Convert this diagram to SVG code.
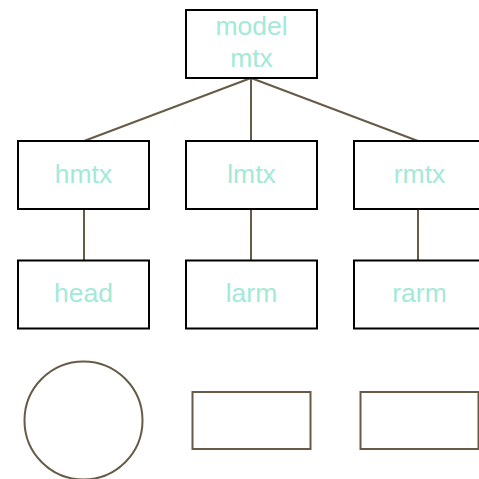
<svg xmlns="http://www.w3.org/2000/svg" width="479" height="479" viewBox="0 0 479 479">
  <style>
    .box { fill: #ffffff; stroke: #000000; stroke-width: 2; }
    .lbl { fill: #a3e9d8; font-family: "Liberation Sans", Arial, sans-serif; font-size: 26.5px; text-anchor: middle; }
    .edge { stroke: #665b46; stroke-width: 2; fill: none; }
    .shape { fill: none; stroke: #665b46; stroke-width: 2; }
  </style>
  <rect width="479" height="479" fill="#ffffff"/>

  <g id="connectors">
    <line class="edge" x1="251" y1="78" x2="84" y2="141"/>
    <line class="edge" x1="251" y1="78" x2="251" y2="141"/>
    <line class="edge" x1="251" y1="78" x2="418" y2="141"/>
    <line class="edge" x1="84" y1="209" x2="84" y2="260"/>
    <line class="edge" x1="251" y1="209" x2="251" y2="260"/>
    <line class="edge" x1="418" y1="209" x2="418" y2="260"/>
  </g>

  <g id="model">
    <rect class="box" x="186" y="10" width="131" height="68"/>
    <text class="lbl" x="251.5" y="35">model</text>
    <text class="lbl" x="251.5" y="66.5">mtx</text>
  </g>
  <g id="hmtx">
    <rect class="box" x="18" y="141" width="131" height="68"/>
    <text class="lbl" x="83.5" y="183">hmtx</text>
  </g>
  <g id="lmtx">
    <rect class="box" x="186" y="141" width="131" height="68"/>
    <text class="lbl" x="251.5" y="183">lmtx</text>
  </g>
  <g id="rmtx">
    <rect class="box" x="354" y="141" width="131" height="68"/>
    <text class="lbl" x="419.5" y="183">rmtx</text>
  </g>
  <g id="head">
    <rect class="box" x="18" y="260.5" width="131" height="68"/>
    <text class="lbl" x="83.5" y="302">head</text>
  </g>
  <g id="larm">
    <rect class="box" x="186" y="260.5" width="131" height="68"/>
    <text class="lbl" x="251.5" y="302">larm</text>
  </g>
  <g id="rarm">
    <rect class="box" x="354" y="260.5" width="131" height="68"/>
    <text class="lbl" x="419.5" y="302">rarm</text>
  </g>

  <g id="head-shape">
    <circle class="shape" cx="83.5" cy="420.5" r="59"/>
  </g>
  <g id="larm-shape">
    <rect class="shape" x="192.5" y="392" width="118" height="57"/>
  </g>
  <g id="rarm-shape">
    <rect class="shape" x="360.5" y="392" width="118" height="57"/>
  </g>
</svg>
